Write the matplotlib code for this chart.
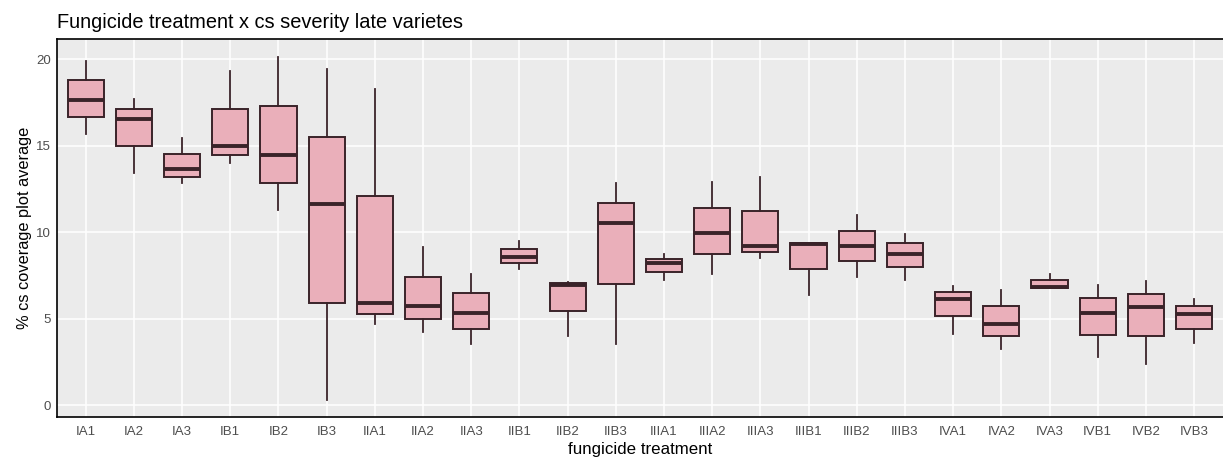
import matplotlib
matplotlib.use("Agg")
import matplotlib.pyplot as plt

plt.rcParams['font.family'] = ['Liberation Sans', 'DejaVu Sans']

categories = ["IA1", "IA2", "IA3", "IB1", "IB2", "IB3", "IIA1", "IIA2", "IIA3",
              "IIB1", "IIB2", "IIB3", "IIIA1", "IIIA2", "IIIA3", "IIIB1", "IIIB2",
              "IIIB3", "IVA1", "IVA2", "IVA3", "IVB1", "IVB2", "IVB3"]
whisker_low = [15.69, 13.42, 12.82, 13.98, 11.26, 0.29, 4.67, 4.24, 3.51,
               7.89, 4.01, 3.51, 7.21, 7.58, 8.52, 6.36, 7.42,
               7.23, 4.13, 3.24, 6.77, 2.76, 2.39, 3.61]
q1 = [16.68, 14.98, 13.21, 14.46, 12.86, 5.92, 5.26, 4.99, 4.41,
      8.21, 5.46, 6.98, 7.69, 8.73, 8.85, 7.85, 8.31,
      7.96, 5.13, 3.97, 6.77, 4.05, 3.99, 4.41]
median = [17.66, 16.56, 13.63, 14.96, 14.46, 11.61, 5.88, 5.75, 5.34,
          8.56, 6.96, 10.53, 8.21, 9.95, 9.18, 9.33, 9.18,
          8.75, 6.15, 4.70, 6.80, 5.34, 5.65, 5.26]
q3 = [18.80, 17.12, 14.52, 17.14, 17.29, 15.50, 12.11, 7.42, 6.46,
      9.02, 7.06, 11.70, 8.46, 11.41, 11.20, 9.37, 10.08,
      9.35, 6.54, 5.71, 7.25, 6.17, 6.42, 5.71]
whisker_high = [19.91, 17.68, 15.42, 19.30, 20.15, 19.43, 18.26, 9.12, 7.56,
                9.49, 7.13, 12.86, 8.75, 12.92, 13.21, 9.38, 10.97,
                9.91, 6.88, 6.67, 7.60, 6.94, 7.15, 6.15]
y_ticks = [0, 5, 10, 15, 20]

fill = "#EAAFBA"
edge = "#3A2329"

fig = plt.figure(figsize=(12.23, 4.61), dpi=100)
ax = fig.add_axes([0.0464, 0.0948, 0.9536, 0.8199])
ax.set_facecolor("#EBEBEB")

stats = []
for i, c in enumerate(categories):
    stats.append(dict(label=c, whislo=whisker_low[i], q1=q1[i], med=median[i],
                      q3=q3[i], whishi=whisker_high[i], fliers=[]))

pos = list(range(1, len(categories) + 1))
ax.bxp(stats, positions=pos, widths=0.75, patch_artist=True, showcaps=False,
       boxprops=dict(facecolor=fill, edgecolor=edge, linewidth=1.4),
       whiskerprops=dict(color=edge, linewidth=1.3),
       medianprops=dict(color=edge, linewidth=2.8, solid_capstyle='butt'),
       zorder=3)

ax.set_xlim(0.4, len(categories) + 0.6)
ax.set_ylim(-0.71, 21.15)
ax.set_yticks(y_ticks)
ax.set_yticklabels([str(v) for v in y_ticks])
ax.set_xticks(pos)
ax.set_xticklabels(categories)
ax.grid(True, color="white", linewidth=1.1, zorder=0)
ax.set_axisbelow(True)
ax.tick_params(axis='both', length=0, labelsize=9.5, colors="#4D4D4D")
ax.tick_params(axis='y', pad=4)
ax.tick_params(axis='x', pad=6.5)

for s in ["left", "bottom", "top"]:
    ax.spines[s].set_color("black")
    ax.spines[s].set_linewidth(1.2)
ax.spines["right"].set_visible(False)

ax.set_xlabel("fungicide treatment", fontsize=12.2, labelpad=3)
ax.set_ylabel("% cs coverage plot average", fontsize=11.8, labelpad=3)
ax.set_title("Fungicide treatment x cs severity late varietes", fontsize=14.4,
             loc="left", pad=8)

fig.savefig("out.png", dpi=100)
